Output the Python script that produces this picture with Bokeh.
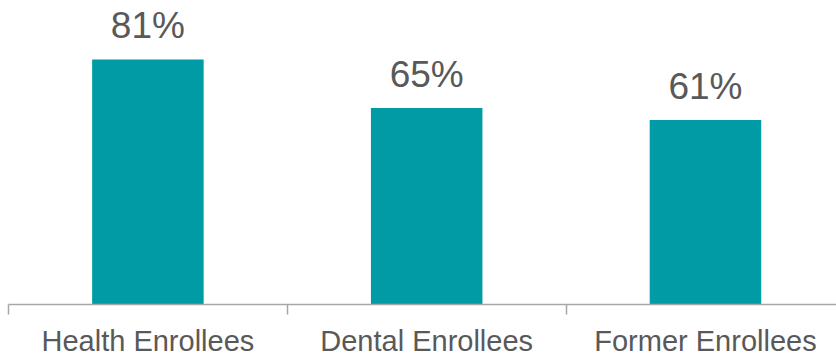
from bokeh.plotting import figure
from bokeh.models import Range1d, FixedTicker, ColumnDataSource, LabelSet
from bokeh.core.properties import value
from bokeh.embed import file_html
from bokeh.resources import INLINE

categories = ["Health Enrollees", "Dental Enrollees", "Former Enrollees"]
values = [81, 65, 61]
value_labels = ["81%", "65%", "61%"]

xs = [i + 0.5 for i in range(len(categories))]
src = ColumnDataSource(dict(x=xs, top=values, lab=value_labels))

p = figure(width=836, height=359, output_backend="svg", toolbar_location=None,
           x_range=Range1d(0, 2.97), y_range=Range1d(0, 100.5),
           y_axis_location=None, min_border_left=8, min_border_right=0,
           min_border_top=0, min_border_bottom=55)
p.outline_line_color = None
p.grid.visible = False
p.background_fill_color = "white"

p.vbar(x="x", top="top", width=0.4, bottom=0, source=src,
       fill_color="#009BA4", line_color=None)

labels = LabelSet(x="x", y="top", text="lab", source=src, text_align="center",
                  text_baseline="alphabetic", y_offset=21,
                  text_font=value("Liberation Sans"),
                  text_font_size="37px", text_color="#595959")
p.add_layout(labels)

ax = p.xaxis[0]
ax.ticker = FixedTicker(ticks=xs, minor_ticks=[0, 1, 2, 3])
ax.major_label_overrides = {x: c for x, c in zip(xs, categories)}
ax.major_tick_out = 0
ax.major_tick_in = 0
ax.minor_tick_out = 10
ax.minor_tick_in = 0
ax.minor_tick_line_color = "#A6A6A6"
ax.axis_line_color = "#A6A6A6"
ax.axis_line_width = 1.5
ax.minor_tick_line_width = 1.5
ax.major_label_text_font = "Liberation Sans"
ax.major_label_text_font_size = "29px"
ax.major_label_text_color = "#595959"
ax.major_label_standoff = 10

open("out.html", "w").write(file_html(p, INLINE))
